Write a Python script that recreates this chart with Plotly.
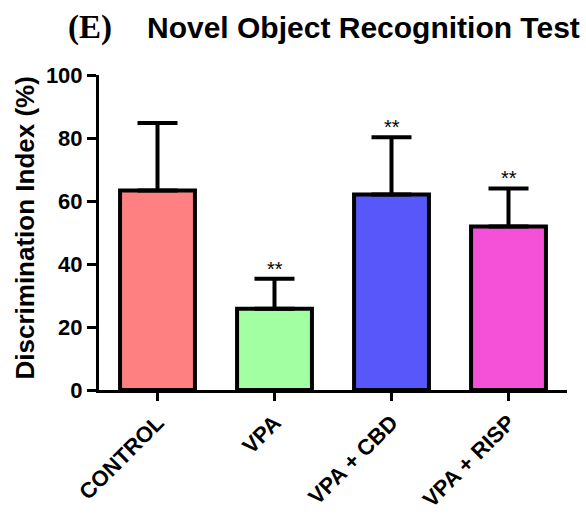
import plotly.graph_objects as go

# Discrimination index per group (mean and upper SEM)
groups = ["CONTROL", "VPA", "VPA + CBD", "VPA + RISP"]
means = [63.3, 25.8, 62.1, 51.9]
errors = [21.5, 9.5, 18.1, 12.1]
signif = ["", "**", "**", "**"]
colors = ["#FF8080", "#A2FFA2", "#5858FA", "#F550D8"]
y_ticks = [0, 20, 40, 60, 80, 100]

SANS = "Liberation Sans, Arial, sans-serif"
SERIF = "Liberation Serif, Times New Roman, serif"

fig = go.Figure()
fig.add_trace(go.Bar(
    x=groups,
    y=means,
    width=0.64,
    marker=dict(color=colors, line=dict(color="black", width=4)),
    error_y=dict(
        type="data",
        symmetric=False,
        array=errors,
        arrayminus=[0] * len(errors),
        color="black",
        thickness=4,
        width=20,
    ),
    showlegend=False,
))

# Significance markers above the error caps
for g, m, e, s in zip(groups, means, errors, signif):
    if s:
        fig.add_annotation(
            x=g, y=m + e, xref="x", yref="y",
            text=s, showarrow=False,
            yanchor="bottom", yshift=-3,
            font=dict(family=SANS, size=20, color="black"),
        )

# Panel letter and title
fig.add_annotation(
    x=0, y=1, xref="paper", yref="paper",
    text="(E)", showarrow=False,
    xanchor="left", yanchor="middle", xshift=-33, yshift=48,
    font=dict(family=SERIF, size=33, color="black", weight="bold"),
)
fig.add_annotation(
    x=0, y=1, xref="paper", yref="paper",
    text="Novel Object Recognition Test", showarrow=False,
    xanchor="left", yanchor="middle", xshift=46, yshift=48,
    font=dict(family=SANS, size=30, color="black", weight="bold"),
)

# Y axis title
fig.add_annotation(
    x=0, y=0.5, xref="paper", yref="paper",
    text="Discrimination Index (%)", showarrow=False,
    textangle=-90, xanchor="center", yanchor="middle", xshift=-75, yshift=4,
    font=dict(family=SANS, size=26, color="black", weight="bold"),
)

fig.update_layout(
    width=586, height=514,
    margin=dict(l=99, r=19, t=75, b=124),
    paper_bgcolor="white", plot_bgcolor="white",
    font=dict(family=SANS, color="black"),
)
fig.update_xaxes(
    range=[-0.5, 3.5], automargin=False,
    showline=True, linecolor="black", linewidth=3,
    ticks="outside", ticklen=8, tickwidth=3, tickcolor="black",
    tickangle=-45,
    tickfont=dict(family=SANS, size=22, color="black", weight="bold"),
    showgrid=False, zeroline=False,
)
fig.update_yaxes(
    range=[0, 100], tickvals=y_ticks, automargin=False,
    showline=True, linecolor="black", linewidth=3,
    ticks="outside", ticklen=9, tickwidth=3, tickcolor="black",
    tickfont=dict(family=SANS, size=22, color="black", weight="bold"),
    showgrid=False, zeroline=False,
)

fig.write_html("out.html")
